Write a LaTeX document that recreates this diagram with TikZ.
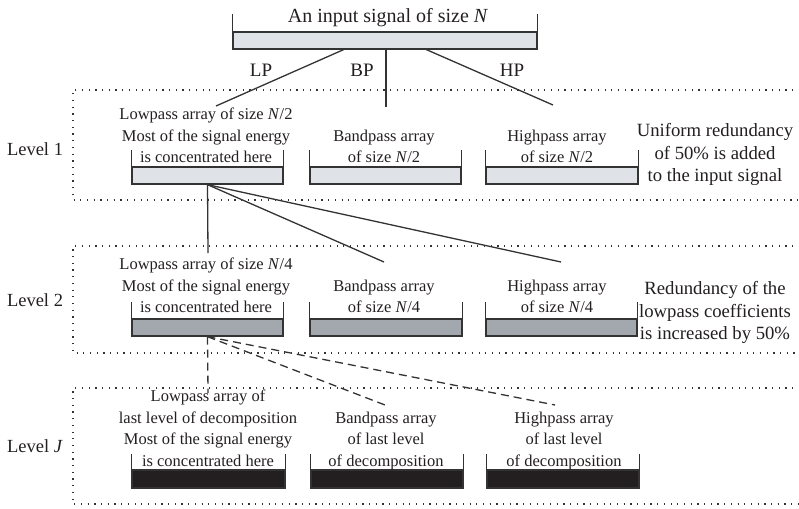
\documentclass[tikz,border=0pt]{standalone}
\usepackage{fontspec}
\setmainfont{Liberation Serif}
\definecolor{ink}{HTML}{231F20}
\definecolor{rule}{HTML}{333333}
\definecolor{fillA}{HTML}{DFE2E6}
\definecolor{fillB}{HTML}{A3A8AE}
\definecolor{fillC}{HTML}{231F20}
\begin{document}
\begin{tikzpicture}[x=1pt,y=-1pt,
  every node/.style={text=ink},
  arr/.style={draw=rule, line width=1.3pt, inner sep=0pt, minimum height=17pt},
  lvA/.style={arr, fill=fillA},
  lvB/.style={arr, fill=fillB},
  lvC/.style={arr, fill=fillC},
  tick/.style={draw=rule, line width=1.3pt},
  link/.style={draw=rule, line width=1.3pt},
  dlink/.style={draw=rule, line width=1.3pt, dash pattern=on 8pt off 5pt},
  frame/.style={draw=rule, line width=1.2pt, dash pattern=on 1.2pt off 5.5pt},
  arrtext/.style={align=center, anchor=south, inner sep=0pt,
    font=\fontsize{16.5}{21.5}\selectfont},
  note/.style={align=center, anchor=south, inner sep=0pt,
    font=\fontsize{18.7}{22.5}\selectfont},
  lvl/.style={anchor=base, inner sep=0pt, font=\fontsize{18.5}{22}\selectfont},
  band/.style={anchor=base, inner sep=0pt, font=\fontsize{19}{22}\selectfont}
]
\useasboundingbox (0,0) rectangle (799,508);

% ---- level frames ----
\draw[frame] (800,90) -| (73,200) -- (800,200);
\draw[frame] (800,246) -| (73,353) -- (800,353);
\draw[frame] (800,388) -| (73,504) -- (800,504);

% ---- input signal ----
\node[lvA, minimum width=304pt] (in) at (385,40.5) {};
\draw[tick] (in.north west) -- ++(0,-17);
\draw[tick] (in.north east) -- ++(0,-17);
\node[anchor=base, inner sep=0pt, font=\fontsize{20}{24}\selectfont] (title) at (388,23)
  {An input signal of size \textit{N}};

\node[band] (lp) at (261,77) {LP};
\node[band] (bp) at (362,77) {BP};
\node[band] (hp) at (512,77) {HP};

% ---- level 1 ----
\node[lvl] (lv1) at (35,155) {Level 1};
\node[lvA, minimum width=151pt] (lo1) at (207.5,175.5) {};
\node[lvA, minimum width=151pt] (bd1) at (385.5,175.5) {};
\node[lvA, minimum width=152pt] (hi1) at (562,175.5) {};
\foreach \b in {lo1,bd1,hi1}{
  \draw[tick] (\b.north west) -- ++(0,-16);
  \draw[tick] (\b.north east) -- ++(0,-16);
}
\node[arrtext] (lo1t) at (206,169.5)
  {Lowpass array of size \textit{N}/2\\Most of the signal energy\\is concentrated here\strut};
\node[arrtext] (bd1t) at (384,169.5) {Bandpass array\\of size \textit{N}/2\strut};
\node[arrtext] (hi1t) at (557,169.5) {Highpass array\\of size \textit{N}/2\strut};
\node[note] (r1) at (715,188.75)
  {Uniform redundancy\\of 50\% is added\\to the input signal\strut};

% ---- level 2 ----
\node[lvl] (lv2) at (35,306) {Level 2};
\node[lvB, minimum width=151pt] (lo2) at (207.5,327.5) {};
\node[lvB, minimum width=152pt] (bd2) at (386,327.5) {};
\node[lvB, minimum width=151pt] (hi2) at (561.5,327.5) {};
\foreach \b in {lo2,bd2,hi2}{
  \draw[tick] (\b.north west) -- ++(0,-16);
  \draw[tick] (\b.north east) -- ++(0,-16);
}
\node[arrtext] (lo2t) at (206,319.5)
  {Lowpass array of size \textit{N}/4\\Most of the signal energy\\is concentrated here\strut};
\node[arrtext] (bd2t) at (384,319.5) {Bandpass array\\of size \textit{N}/4\strut};
\node[arrtext] (hi2t) at (557,319.5) {Highpass array\\of size \textit{N}/4\strut};
\node[note] (r2) at (715,346.75)
  {Redundancy of the\\lowpass coefficients\\is increased by 50\%\strut};

% ---- level J ----
\node[lvl] (lvJ) at (35,452) {Level \textit{J}};
\node[lvC, minimum width=153pt, minimum height=18pt] (loJ) at (208.5,479) {};
\node[lvC, minimum width=152pt, minimum height=18pt] (bdJ) at (387,479) {};
\node[lvC, minimum width=152pt, minimum height=18pt] (hiJ) at (563,479) {};
\foreach \b in {loJ,bdJ,hiJ}{
  \draw[tick] (\b.north west) -- ++(0,-15);
  \draw[tick] (\b.north east) -- ++(0,-15);
}
\node[arrtext] (loJt) at (208,473)
  {Lowpass array of\\last level of decomposition\\Most of the signal energy\\is concentrated here\strut};
\node[arrtext] (bdJt) at (386,473) {Bandpass array\\of last level\\of decomposition\strut};
\node[arrtext] (hiJt) at (564,473) {Highpass array\\of last level\\of decomposition\strut};

% ---- connector end points ----
\coordinate (inL) at (345,49);
\coordinate (inB) at (386,49);
\coordinate (inH) at (425,49);
\coordinate (e1L) at (216,106);
\coordinate (e1B) at (386,107);
\coordinate (e1H) at (553,105);
\coordinate (e2L) at (208,253);
\coordinate (e2B) at (384,262);
\coordinate (e2H) at (561,262);
\coordinate (eJL) at (208,393);
\coordinate (eJB) at (385,405);
\coordinate (eJH) at (555,405);

% ---- connectors ----
\draw[link] (inL) -- (e1L);
\draw[link] (inB) -- (e1B);
\draw[link] (inH) -- (e1H);
\draw[link] (lo1.south) -- (e2L);
\draw[link] (lo1.south) -- (e2B);
\draw[link] (lo1.south) -- (e2H);
\draw[dlink] (lo2.south) -- (eJL);
\draw[dlink] (lo2.south) -- (eJB);
\draw[dlink] (lo2.south) -- (eJH);
\end{tikzpicture}
\end{document}
